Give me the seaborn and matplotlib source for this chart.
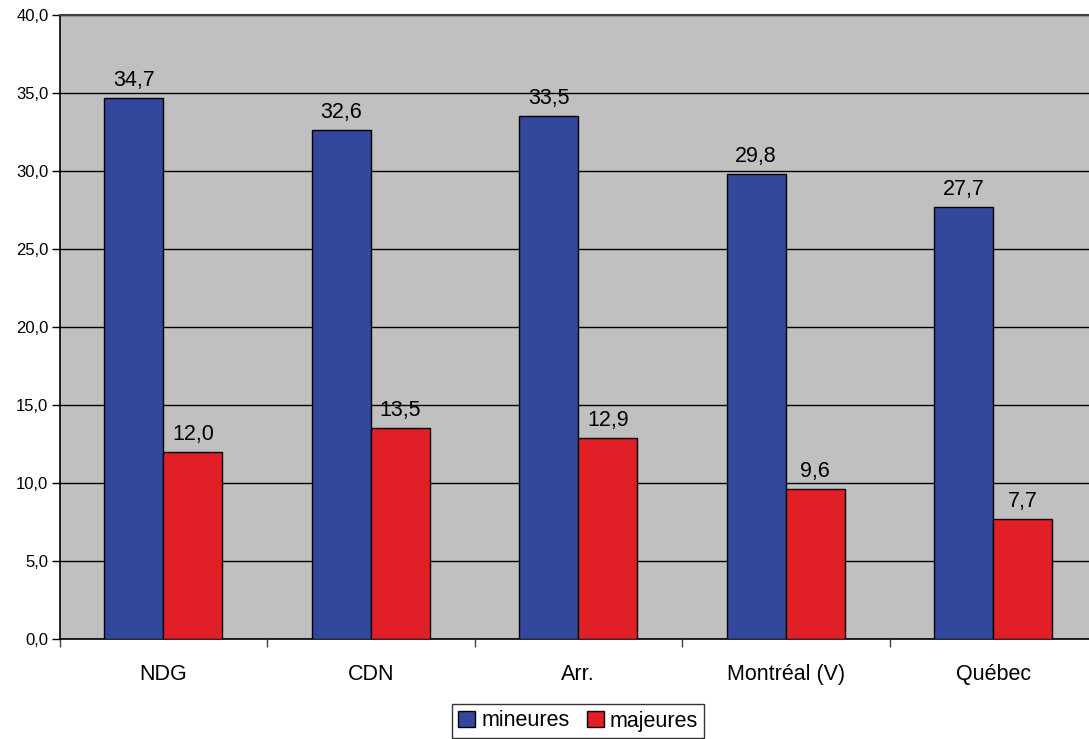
import matplotlib
matplotlib.use("Agg")
import matplotlib.pyplot as plt
import seaborn as sns
import pandas as pd
from matplotlib.ticker import FixedLocator, FuncFormatter

categories = ["NDG", "CDN", "Arr.", "Montréal (V)", "Québec"]
mineures = [34.7, 32.6, 33.5, 29.8, 27.7]
majeures = [12.0, 13.5, 12.9, 9.6, 7.7]
series_names = ["mineures", "majeures"]
colors = ["#33479D", "#E01F26"]

df = pd.DataFrame({
    "cat": categories * 2,
    "val": mineures + majeures,
    "serie": [series_names[0]] * 5 + [series_names[1]] * 5,
})

sns.set_style("white")
plt.rcParams["font.family"] = ["Liberation Sans", "DejaVu Sans"]
plt.rcParams["text.color"] = "black"
plt.rcParams["xtick.color"] = "black"
plt.rcParams["ytick.color"] = "black"

fig = plt.figure(figsize=(10.89, 7.39), dpi=100)
ax = fig.add_axes([59.5/1089, 1-639/739, (1097-59.5)/1089, (639-15)/739])
ax.set_facecolor("#C0C0C0")

sns.barplot(data=df, x="cat", y="val", hue="serie", order=categories,
            hue_order=series_names, palette=colors, saturation=1, width=0.57,
            edgecolor="black", linewidth=1.0, ax=ax, legend=True, zorder=3)

ax.set_xlim(-0.5, 4.5)
ax.set_ylim(0, 40)
ax.yaxis.set_major_locator(FixedLocator([0, 5, 10, 15, 20, 25, 30, 35, 40]))
ax.yaxis.set_major_formatter(FuncFormatter(lambda v, p: f"{v:.1f}".replace(".", ",")))
ax.grid(axis="y", color="black", linewidth=1.0, zorder=0)
ax.set_axisbelow(True)
ax.tick_params(axis="y", which="major", length=6, width=1, color="black",
               labelsize=12, pad=2, left=True, labelcolor="black")
ax.tick_params(axis="x", which="major", length=0, labelsize=15.5, pad=18, labelcolor="black")
ax.set_xticks([-0.5, 0.5, 1.5, 2.5, 3.5, 4.5], minor=True)
ax.tick_params(axis="x", which="minor", length=6, width=1, color="#404040", bottom=True)
ax.set_xlabel("")
ax.set_ylabel("")

for s in ["left", "bottom"]:
    ax.spines[s].set_color("black")
    ax.spines[s].set_linewidth(1.2)
ax.spines["top"].set_color("#404040")
ax.spines["top"].set_linewidth(1.5)
ax.spines["right"].set_visible(False)

for cont in ax.containers:
    ax.bar_label(cont, labels=[f"{v:.1f}".replace(".", ",") for v in cont.datavalues],
                 padding=5, fontsize=15.5, color="black")

handles, labels = ax.get_legend_handles_labels()
leg = ax.legend(handles, labels, loc="center", bbox_to_anchor=(578/1089, 1-721/739),
                bbox_transform=fig.transFigure, ncol=2, fontsize=15.5, frameon=True,
                fancybox=False, edgecolor="black", handlelength=0.8, handleheight=0.8,
                handletextpad=0.28, columnspacing=0.8, borderpad=0.28, borderaxespad=0)
leg.get_frame().set_linewidth(1.0)
for t in leg.get_texts():
    t.set_color("black")

fig.savefig("out.png", dpi=100)
